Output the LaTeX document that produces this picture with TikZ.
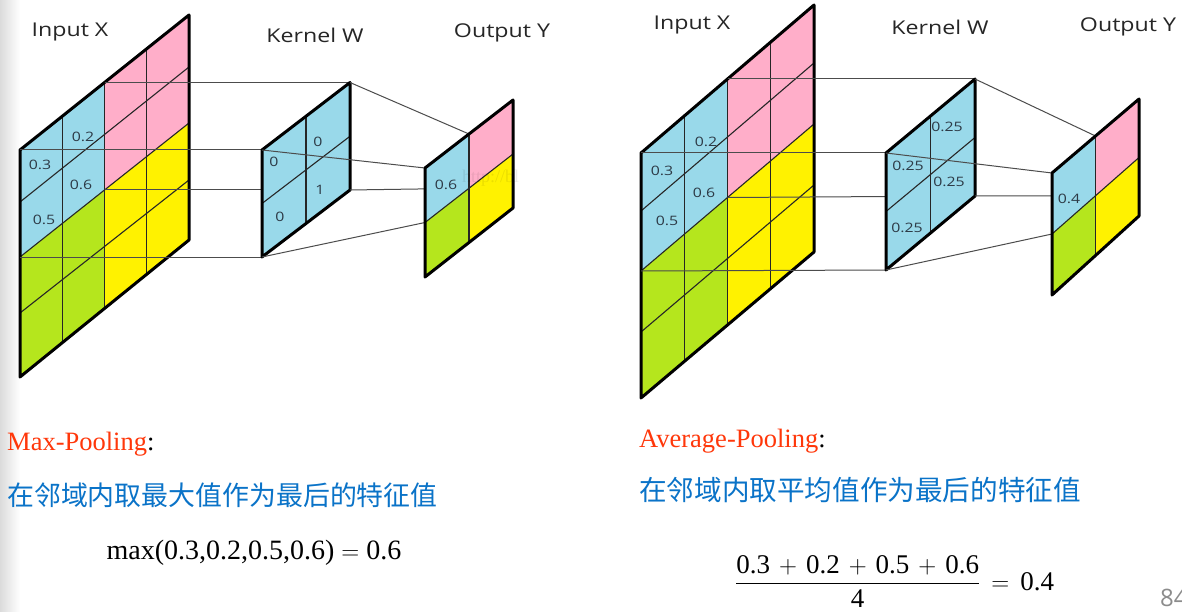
\documentclass[tikz,border=0pt]{standalone}
\usepackage{amsmath}
\usepackage{fontspec}
\setmainfont{Liberation Serif}
\newfontfamily\labfont[FakeStretch=1.22]{Open Sans}
\newfontfamily\numfont{Open Sans}
\newfontfamily\cjk{Noto Sans CJK SC}
\usetikzlibrary{calc}
\definecolor{cblue}{RGB}{153,217,234}
\definecolor{cpink}{RGB}{255,174,201}
\definecolor{cyell}{RGB}{255,242,0}
\definecolor{clime}{RGB}{181,230,29}
\definecolor{labcol}{RGB}{45,58,70}
\definecolor{titcol}{RGB}{38,38,38}
\definecolor{redT}{RGB}{255,55,10}
\definecolor{blueT}{RGB}{10,115,200}
\tikzset{
  frame/.style={line width=3pt, line join=round},
  gridline/.style={line width=1.1pt, black!85},
  conn/.style={line width=1pt, black!70},
  cell/.style={font=\labfont\fontsize{13}{13}\selectfont, text=labcol, inner sep=0pt},
  title/.style={font=\labfont\fontsize{19}{22}\selectfont, text=titcol, inner sep=0pt},
  head/.style={font=\fontsize{26.5}{30}\selectfont, text=redT, inner sep=0pt, anchor=base west},
  cntext/.style={font=\cjk\fontsize{26.9}{30}\selectfont, text=blueT, inner sep=0pt, anchor=base west},
  formula/.style={font=\fontsize{28}{32}\selectfont, inner sep=0pt}
}
\newcommand\pl{\mkern2.5mu+\mkern2.5mu}
\newcommand\inputgrid[1]{%
  \coordinate (#1M0) at ($(#1L0)!0.5!(#1R0)$);
  \coordinate (#1M2) at ($(#1L2)!0.5!(#1R2)$);
  \coordinate (#1M4) at ($(#1L4)!0.5!(#1R4)$);
  \fill[cblue] (#1L0)--(#1M0)--(#1M2)--(#1L2)--cycle;
  \fill[cpink] (#1M0)--(#1R0)--(#1R2)--(#1M2)--cycle;
  \fill[clime] (#1L2)--(#1M2)--(#1M4)--(#1L4)--cycle;
  \fill[cyell] (#1M2)--(#1R2)--(#1R4)--(#1M4)--cycle;
  \foreach \ii in {1,2,3} {\draw[gridline] (#1L\ii)--(#1R\ii);}
  \foreach \uu in {0.25,0.5,0.75} {\draw[gridline] ($(#1L0)!\uu!(#1R0)$)--($(#1L4)!\uu!(#1R4)$);}
  \draw[frame] (#1L0)--(#1R0)--(#1R4)--(#1L4)--cycle;
}
\newcommand\kernelbox[1]{%
  \fill[cblue] (#1TL)--(#1TR)--(#1BR)--(#1BL)--cycle;
  \draw[gridline] ($(#1TL)!.5!(#1TR)$)--($(#1BL)!.5!(#1BR)$);
  \draw[gridline] ($(#1TL)!.5!(#1BL)$)--($(#1TR)!.5!(#1BR)$);
  \draw[frame] (#1TL)--(#1TR)--(#1BR)--(#1BL)--cycle;
}
\newcommand\outmids[1]{%
  \coordinate (#1T) at ($(#1TL)!.5!(#1TR)$);
  \coordinate (#1B) at ($(#1BL)!.5!(#1BR)$);
  \coordinate (#1L) at ($(#1TL)!.5!(#1BL)$);
  \coordinate (#1R) at ($(#1TR)!.5!(#1BR)$);
  \coordinate (#1C) at ($(#1T)!.5!(#1B)$);
}
\newcommand\outbox[1]{%
  \fill[cblue] (#1TL)--(#1T)--(#1C)--(#1L)--cycle;
  \fill[cpink] (#1T)--(#1TR)--(#1R)--(#1C)--cycle;
  \fill[clime] (#1L)--(#1C)--(#1B)--(#1BL)--cycle;
  \fill[cyell] (#1C)--(#1R)--(#1BR)--(#1B)--cycle;
  \draw[gridline] (#1T)--(#1B);
  \draw[gridline] (#1L)--(#1R);
  \draw[frame] (#1TL)--(#1TR)--(#1BR)--(#1BL)--cycle;
}
\begin{document}
\begin{tikzpicture}[x=1pt,y=-1pt]
\useasboundingbox (0,0) rectangle (1182,612);
\fill[white] (0,0) rectangle (1182,612);
\shade[left color=black!14, right color=white] (0,0) rectangle (20,612);

% ---------------- left diagram (max pooling) ----------------
\coordinate (aL0) at (20,150); \coordinate (aR0) at (189,15);
\coordinate (aL1) at (20,202); \coordinate (aR1) at (189,67);
\coordinate (aL2) at (20,257); \coordinate (aR2) at (189,123);
\coordinate (aL3) at (20,313); \coordinate (aR3) at (189,180);
\coordinate (aL4) at (20,377); \coordinate (aR4) at (189,240);
\inputgrid{a}

\coordinate (kaTL) at (262,150); \coordinate (kaTR) at (350,82.5);
\coordinate (kaBR) at (350,190); \coordinate (kaBL) at (262,257);
\coordinate (oaTL) at (425,168); \coordinate (oaTR) at (513,100);
\coordinate (oaBR) at (513,208); \coordinate (oaBL) at (425,277);
\outmids{oa}

\draw[conn] (aM0)--(kaTR);
\draw[conn] (aL0)--(kaTL);
\draw[conn] (aM2)--(kaBR);
\draw[conn] (aL2)--(kaBL);
\kernelbox{ka}
\draw[conn] (kaTR)--(oaT);
\draw[conn] (kaTL)--(oaTL);
\draw[conn] (kaBR)--(oaC);
\draw[conn] (kaBL)--(oaL);
\outbox{oa}

\node[cell] (a03) at (40,165) {0.3};
\node[cell] (a02) at (83,137) {0.2};
\node[cell] (a06) at (81,185) {0.6};
\node[cell] (a05) at (44,220) {0.5};
\node[cell] (ka1) at (274,162) {0};
\node[cell] (ka2) at (318,142) {0};
\node[cell] (ka3) at (320,190) {1};
\node[cell] (ka4) at (280,217) {0};
\node[cell] (oa1) at (446,185) {0.6};
\node[font=\fontsize{18}{18}\selectfont, text=black, opacity=0.08, anchor=west, inner sep=0pt] (wm) at (462,178) {http://bl};

\node[title] (ta1) at (70,32) {Input X};
\node[title] (ta2) at (315,35) {Kernel W};
\node[title] (ta3) at (502,33) {Output Y};

% ---------------- right diagram (average pooling) ----------------
\coordinate (bL0) at (641,153); \coordinate (bR0) at (814,5);
\coordinate (bL1) at (641,211); \coordinate (bR1) at (814,63);
\coordinate (bL2) at (641,271); \coordinate (bR2) at (814,124);
\coordinate (bL3) at (641,332); \coordinate (bR3) at (814,185);
\coordinate (bL4) at (641,398); \coordinate (bR4) at (814,252);
\inputgrid{b}

\coordinate (kbTL) at (886,153); \coordinate (kbTR) at (975,79);
\coordinate (kbBR) at (975,196); \coordinate (kbBL) at (886,270);
\coordinate (obTL) at (1052,173); \coordinate (obTR) at (1139,99);
\coordinate (obBR) at (1139,216); \coordinate (obBL) at (1052,295);
\outmids{ob}

\draw[conn] (bM0)--(kbTR);
\draw[conn] (bL0)--(kbTL);
\draw[conn] (bM2)--(kbBR);
\draw[conn] (bL2)--(kbBL);
\kernelbox{kb}
\draw[conn] (kbTR)--(obT);
\draw[conn] (kbTL)--(obTL);
\draw[conn] (kbBR)--(obC);
\draw[conn] (kbBL)--(obL);
\outbox{ob}

\node[cell] (b03) at (662,171) {0.3};
\node[cell] (b02) at (706,142) {0.2};
\node[cell] (b06) at (704,193) {0.6};
\node[cell] (b05) at (667,221) {0.5};
\node[cell] (kb1) at (947,127) {0.25};
\node[cell] (kb2) at (908,166) {0.25};
\node[cell] (kb3) at (949,182) {0.25};
\node[cell] (kb4) at (907,228) {0.25};
\node[cell] (ob1) at (1069,199) {0.4};

\node[title] (tb1) at (692,25) {Input X};
\node[title] (tb2) at (940,27) {Kernel W};
\node[title] (tb3) at (1128,27) {Output Y};

% ---------------- texts ----------------
\node[head] (h1) at (7,450) {Max-Pooling\textcolor{black}{:}};
\node[cntext] (c1) at (7,505) {在邻域内取最大值作为最后的特征值};
\node[formula] (f1) at (254,553) {$\text{max(0.3,0.2,0.5,0.6)} = \text{0.6}$};

\node[head] (h2) at (639,447) {Average-Pooling\textcolor{black}{:}};
\node[cntext, font=\cjk\fontsize{27.6}{30}\selectfont] (c2) at (639,500) {在邻域内取平均值作为最后的特征值};
\node[formula, anchor=base west, font=\fontsize{27}{30}\selectfont] (f2) at (735,590) {$\dfrac{\text{0.3}\pl\text{0.2}\pl\text{0.5}\pl\text{0.6}}{\text{4}} \mkern3mu=\mkern3mu \text{0.4}$};

\node[font=\numfont\fontsize{24}{24}\selectfont, text=black!45, anchor=west, inner sep=0pt] (pg) at (1160,598) {84};
\end{tikzpicture}
\end{document}
